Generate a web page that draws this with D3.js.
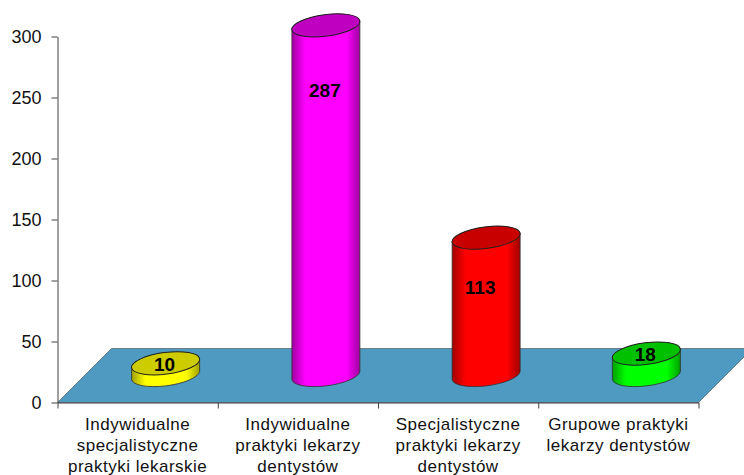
<!DOCTYPE html>
<html>
<head>
<meta charset="utf-8">
<script src="https://cdn.jsdelivr.net/npm/d3@7"></script>
<style>
  html, body { margin: 0; padding: 0; background: #fff; overflow: hidden; }
  text { font-family: "Liberation Sans", Arial, sans-serif; }
</style>
</head>
<body>
<div id="chart"></div>
<script>
// Data
const categories = [
    ["Indywidualne", "specjalistyczne", "praktyki lekarskie"],
    ["Indywidualne", "praktyki lekarzy", "dentystów"],
    ["Specjalistyczne", "praktyki lekarzy", "dentystów"],
    ["Grupowe praktyki", "lekarzy dentystów"]
];
const values = [10, 287, 113, 18];
const yTicks = [0, 50, 100, 150, 200, 250, 300];

// Styles
const sideColors = ["#ffff00", "#ff00ff", "#ff0000", "#00ff00"];
const topColors = ["#cccc00", "#c000c0", "#c80000", "#00c000"];
const edgeColors = ["#a0a000", "#a000a0", "#a00000", "#00a000"];
const labelDrop = [1, 65, 50, 1];

const width = 744, height = 475;
const plot = {left: 57.5, right: 698.5, top: 36.5, bottom: 402.5};
const depth = 54;               // how far the floor runs back
const rx = 34.3, ry = 10.8, tilt = -7.5;   // cylinder end ellipse
const edgeX = 34, edgeY = 4;    // points where side walls touch the ellipse

const svg = d3.select("#chart").append("svg")
    .attr("width", width)
    .attr("height", height)
    .style("display", "block");

const x = d3.scaleLinear().domain([0, categories.length]).range([plot.left, plot.right]);
const y = d3.scaleLinear().domain([0, 300]).range([plot.bottom, plot.top]);

// Gradients for the cylinder sides
const defs = svg.append("defs");
sideColors.forEach((c, i) => {
    const g = defs.append("linearGradient").attr("id", "side" + i);
    g.append("stop").attr("offset", "0%").attr("stop-color", edgeColors[i]);
    g.append("stop").attr("offset", "20%").attr("stop-color", c);
    g.append("stop").attr("offset", "80%").attr("stop-color", c);
    g.append("stop").attr("offset", "100%").attr("stop-color", edgeColors[i]);
});

// Floor
const floor = d3.path();
floor.moveTo(plot.left, plot.bottom);
floor.lineTo(plot.left + depth, plot.bottom - depth);
floor.lineTo(plot.right + depth, plot.bottom - depth);
floor.lineTo(plot.right, plot.bottom);
floor.closePath();
svg.append("path")
    .attr("d", floor.toString())
    .attr("fill", "#4f9ac0")
    .attr("stroke", "#6b7f8a")
    .attr("stroke-width", 1);

// Axes
const yAxis = svg.append("g")
    .attr("transform", `translate(${plot.left},0)`)
    .call(d3.axisLeft(y).tickValues(yTicks).tickSize(6).tickSizeOuter(0));
yAxis.selectAll("text")
    .attr("x", -16)
    .attr("dy", "0.36em")
    .style("font-size", "18px")
    .attr("fill", "#111");

const xAxis = svg.append("g")
    .attr("transform", `translate(0,${plot.bottom})`)
    .call(d3.axisBottom(x).tickValues(d3.range(categories.length + 1)).tickFormat("").tickSize(6).tickSizeOuter(0));

svg.selectAll(".domain, .tick line").attr("stroke", "#404040");

// Category labels
const catLabels = svg.append("g").selectAll("text")
    .data(categories)
    .join("text")
    .attr("text-anchor", "middle")
    .attr("fill", "#111")
    .style("font-size", "17px")
    .style("letter-spacing", "0.5px");
catLabels.each(function (lines, c) {
    d3.select(this).selectAll("tspan")
        .data(lines)
        .join("tspan")
        .attr("x", x(c + 0.5))
        .attr("y", (d, i) => 430 + i * 21)
        .text(d => d);
});

// Cylinders
const bars = svg.append("g").selectAll("g")
    .data(values)
    .join("g");

const cx = i => x(i + 0.5) + depth / 2 + 1;
const base = () => y(0) - depth / 2;
const topY = d => y(d) - depth / 2;

bars.append("path")
    .attr("d", (d, i) => {
        const c = cx(i);
        return `M${c - edgeX},${topY(d) + edgeY}` +
            `L${c - edgeX},${base() + edgeY}` +
            `A${rx},${ry} ${tilt} 0 0 ${c + edgeX},${base() - edgeY}` +
            `L${c + edgeX},${topY(d) - edgeY}` +
            `A${rx},${ry} ${tilt} 0 0 ${c - edgeX},${topY(d) + edgeY}Z`;
    })
    .attr("fill", (d, i) => `url(#side${i})`)
    .attr("stroke", "#303030")
    .attr("stroke-width", 0.8);

bars.append("ellipse")
    .attr("rx", rx)
    .attr("ry", ry)
    .attr("transform", (d, i) => `translate(${cx(i)},${topY(d)}) rotate(${tilt})`)
    .attr("fill", (d, i) => topColors[i])
    .attr("stroke", "#202020")
    .attr("stroke-width", 1);

// Value labels
bars.append("text")
    .attr("x", (d, i) => cx(i) - (i === 2 ? 5 : 0) - 1)
    .attr("y", (d, i) => topY(d) + labelDrop[i])
    .attr("dy", "0.36em")
    .attr("text-anchor", "middle")
    .attr("fill", "#000")
    .style("font-size", "19px")
    .style("font-weight", "bold")
    .text(d => d);
</script>
</body>
</html>
